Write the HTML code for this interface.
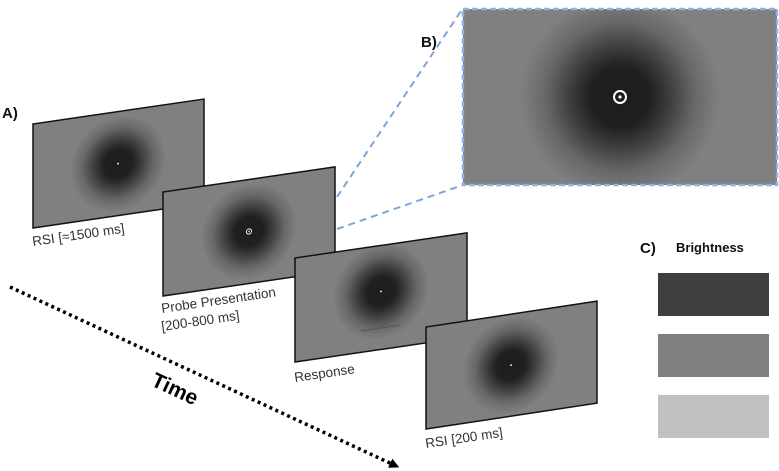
<!DOCTYPE html>
<html><head><meta charset="utf-8"><style>
html,body{margin:0;padding:0;background:#fff;}
svg{display:block;font-family:"Liberation Sans","DejaVu Sans",sans-serif;}
</style></head><body>
<svg width="779" height="471" viewBox="0 0 779 471" xmlns="http://www.w3.org/2000/svg">
<defs>
<radialGradient id="g" cx="0.5" cy="0.5" r="0.5">
<stop offset="0" stop-color="#1e1c1d"/>
<stop offset="0.3" stop-color="#211f20"/>
<stop offset="0.5" stop-color="#3e3e3e"/>
<stop offset="0.75" stop-color="#686868"/>
<stop offset="1" stop-color="#808080"/>
</radialGradient>
<clipPath id="cb"><rect x="463" y="9" width="314" height="176"/></clipPath>
<clipPath id="cp"><rect x="0" y="0" width="172" height="104"/></clipPath>
<marker id="ah" markerWidth="10" markerHeight="10" refX="2" refY="5" orient="auto" markerUnits="userSpaceOnUse">
<path d="M0,0 L10,5 L0,10 z" fill="#000"/>
</marker>
</defs>

<line x1="337" y1="197" x2="463" y2="8" stroke="#7fa3e0" stroke-width="2" stroke-dasharray="7,5"/>
<line x1="337" y1="229" x2="463" y2="185" stroke="#7fa3e0" stroke-width="2" stroke-dasharray="7,5"/>

<rect x="463" y="9" width="314" height="176" fill="#808080"/>
<circle cx="620" cy="97" r="100" fill="url(#g)" clip-path="url(#cb)"/>
<rect x="463" y="9" width="314" height="176" fill="none" stroke="#8fb0e8" stroke-width="2.5" stroke-dasharray="6,3"/>
<circle cx="620" cy="97" r="6" fill="none" stroke="#fff" stroke-width="2"/>
<circle cx="620" cy="97" r="1.6" fill="#fff"/>
<text x="421" y="47" font-size="15" font-weight="bold" fill="#111">B)</text>

<text x="2" y="118" font-size="15" font-weight="bold" fill="#111">A)</text>

<g transform="translate(33,124) skewY(-8.3)">
<rect x="0" y="0" width="171" height="104" fill="#808080"/>
<circle cx="85" cy="52" r="48" fill="url(#g)" clip-path="url(#cp)"/>
<circle cx="85" cy="52" r="1" fill="#ddd"/>
<rect x="0" y="0" width="171" height="104" fill="none" stroke="#111" stroke-width="1.5"/>
</g>
<g transform="translate(163,192) skewY(-8.3)">
<rect x="0" y="0" width="172" height="104" fill="#808080"/>
<circle cx="86" cy="52" r="48" fill="url(#g)" clip-path="url(#cp)"/>
<circle cx="86" cy="52" r="2.6" fill="none" stroke="#eee" stroke-width="1"/>
<circle cx="86" cy="52" r="0.8" fill="#eee"/>
<rect x="0" y="0" width="172" height="104" fill="none" stroke="#111" stroke-width="1.5"/>
</g>
<g transform="translate(295,258) skewY(-8.3)">
<rect x="0" y="0" width="172" height="104" fill="#808080"/>
<circle cx="86" cy="46" r="48" fill="url(#g)" clip-path="url(#cp)"/>
<circle cx="86" cy="46" r="1" fill="#ddd"/>
<rect x="79" y="75" width="14" height="1" fill="#555"/>
<rect x="66" y="82" width="40" height="1" fill="#555"/>
<rect x="0" y="0" width="172" height="104" fill="none" stroke="#111" stroke-width="1.5"/>
</g>
<g transform="translate(426,327) skewY(-8.6)">
<rect x="0" y="0" width="171" height="102" fill="#808080"/>
<circle cx="85" cy="51" r="48" fill="url(#g)" clip-path="url(#cp)"/>
<circle cx="85" cy="51" r="1" fill="#ddd"/>
<rect x="0" y="0" width="171" height="102" fill="none" stroke="#111" stroke-width="1.5"/>
</g>

<g fill="#333" font-size="13.5">
<text transform="translate(33,246) rotate(-8.3)">RSI [≈1500 ms]</text>
<text transform="translate(162,313) rotate(-8.3)">Probe Presentation</text>
<text transform="translate(162,331) rotate(-8.3)">[200-800 ms]</text>
<text transform="translate(295,382) rotate(-8.3)">Response</text>
<text transform="translate(426,448) rotate(-8.3)">RSI [200 ms]</text>
</g>

<line x1="10" y1="287" x2="392" y2="464" stroke="#000" stroke-width="3.5" stroke-dasharray="3,3.5" marker-end="url(#ah)"/>
<text transform="translate(150,385) rotate(25)" font-size="21" font-weight="bold" fill="#000">Time</text>

<text x="640" y="253" font-size="15" font-weight="bold" fill="#111">C)</text>
<text x="676" y="252" font-size="13" font-weight="bold" fill="#111">Brightness</text>
<rect x="658" y="273" width="111" height="43" fill="#3f3f3f"/>
<rect x="658" y="334" width="111" height="43" fill="#7f7f7f"/>
<rect x="658" y="395" width="111" height="43" fill="#c0c0c0"/>
</svg>
</body></html>
